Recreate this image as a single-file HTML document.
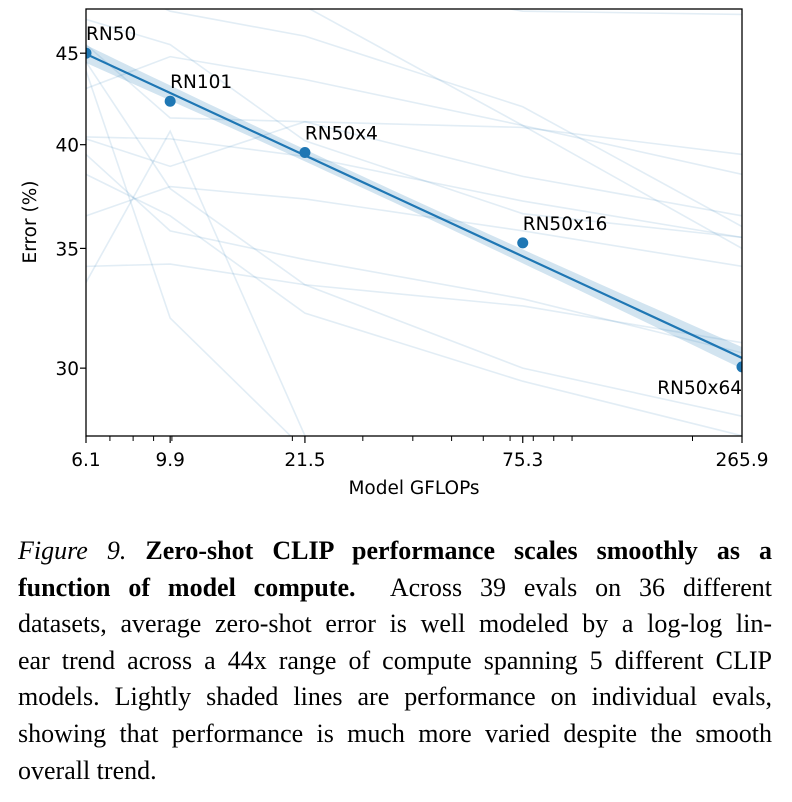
<!DOCTYPE html>
<html><head><meta charset="utf-8">
<style>
html,body{margin:0;padding:0;background:#fff;width:792px;height:802px;overflow:hidden}
#cap{position:absolute;left:18px;top:533px;width:754px;font-family:"Liberation Serif",serif;font-size:26px;line-height:36.6px;color:#000}
#cap .ln{text-align:justify;text-align-last:justify;white-space:nowrap}
#cap .last{text-align-last:left}
</style></head><body>
<svg id="chart" width="792" height="520" style="position:absolute;left:0;top:0" font-family="DejaVu Sans, sans-serif"></svg>
<div id="cap">
<div class="ln"><i>Figure 9.</i> <b>Zero-shot CLIP performance scales smoothly as a</b></div>
<div class="ln"><b>function of model compute.</b>&nbsp; Across 39 evals on 36 different</div>
<div class="ln">datasets, average zero-shot error is well modeled by a log-log lin-</div>
<div class="ln">ear trend across a 44x range of compute spanning 5 different CLIP</div>
<div class="ln">models. Lightly shaded lines are performance on individual evals,</div>
<div class="ln">showing that performance is much more varied despite the smooth</div>
<div class="ln last">overall trend.</div>
</div>
<script>
const models = ["RN50","RN101","RN50x4","RN50x16","RN50x64"];
const gflops = [6.1, 9.9, 21.5, 75.3, 265.9];
const avgError = [45.0, 42.3, 39.6, 35.25, 30.05];
const yTicks = [30, 35, 40, 45];
const xMinorTicks = [7,8,9,10,20,30,40,50,60,70,80,90,100,200];
const evalSeries = [
 [43.0, 44.8, 43.5, 41.0, 38.5],
 [40.4, 40.3, 39.4, 37.2, 35.5],
 [40.3, 38.9, 41.2, 40.9, 39.5],
 [36.5, 37.9, 37.3, 35.8, 34.2],
 [34.2, 34.3, 33.4, 32.5, 31.0],
 [45.5, 41.4, 41.2, 38.4, 36.5],
 [44.0, 32.0, 27.0, 24.0, 22.0],
 [33.5, 40.7, 27.5, 22.0, 20.0],
 [39.5, 35.8, 34.5, 32.8, 30.6],
 [44.5, 37.8, 33.4, 30.0, 28.2],
 [50.0, 47.5, 46.0, 42.0, 36.0],
 [52.0, 50.0, 47.8, 41.0, 35.0],
 [55.0, 53.0, 50.0, 47.5, 47.3],
 [47.0, 45.5, 40.2, 36.6, 35.5],
 [38.5, 36.5, 32.2, 29.5, 27.5]
];
const NS="http://www.w3.org/2000/svg";
const svg=document.getElementById('chart');
const L=86,R=742,T=9,B=436;
const FS=18.5;
const lx0=Math.log(6.1), lx1=Math.log(265.9);
function X(v){return L+(Math.log(v)-lx0)/(lx1-lx0)*(R-L);}
function Y(v){return 3010.2-776.8*Math.log(v);}
function mk(tag,attrs,parent){const e=document.createElementNS(NS,tag);for(const k in attrs)e.setAttribute(k,attrs[k]);(parent||svg).appendChild(e);return e;}
const defs=mk('defs',{});
const cp=mk('clipPath',{id:'clip'},defs);
mk('rect',{x:L,y:T,width:R-L,height:B-T},cp);
const g=mk('g',{'clip-path':'url(#clip)'});


evalSeries.forEach((s,i)=>{
 const p=mk('polyline',{points:s.map((v,j)=>X(gflops[j])+','+Y(v)).join(' '),fill:'none',stroke:'#1f77b4','stroke-opacity':0.13,'stroke-width':1.6},g);
 
 
});
const lx=gflops.map(Math.log), ly=avgError.map(Math.log);
const mx=lx.reduce((a,b)=>a+b)/lx.length, my=ly.reduce((a,b)=>a+b)/ly.length;
let sxy=0,sxx=0;lx.forEach((v,i)=>{sxy+=(v-mx)*(ly[i]-my);sxx+=(v-mx)*(v-mx);});
const slope=sxy/sxx;
function fit(x){return Math.exp(my+slope*(Math.log(x)-mx));}
const c=13;
const up=[],dn=[];
for(let k=0;k<=60;k++){const lv=lx0+(lx1-lx0)*k/60;const x=Math.exp(lv);const hw=c*Math.sqrt(0.2+(lv-mx)*(lv-mx)/sxx);const yy=Y(fit(x));up.push(X(x)+','+(yy-hw));dn.unshift(X(x)+','+(yy+hw));}
const band=mk('polygon',{points:up.concat(dn).join(' '),fill:'#1f77b4','fill-opacity':0.2},g);


const tl=mk('line',{x1:X(6.1),y1:Y(fit(6.1)),x2:X(265.9),y2:Y(fit(265.9)),stroke:'#1f77b4','stroke-width':2.2},g);


models.forEach((m,i)=>{
 const pt=mk('circle',{cx:X(gflops[i]),cy:Y(avgError[i]),r:5.5,fill:'#1f77b4'},g);
 
 
});
const lbl=[[0,-13,'start'],[0,-13,'start'],[0,-13,'start'],[0,-13,'start'],[0,27,'end']];
models.forEach((m,i)=>{
 const t=mk('text',{x:X(gflops[i])+lbl[i][0],y:Y(avgError[i])+lbl[i][1],'font-size':FS,'text-anchor':lbl[i][2],fill:'#000'});
 t.textContent=m;
 
 
});
const frame=mk('rect',{x:L,y:T,width:R-L,height:B-T,fill:'none',stroke:'#000','stroke-width':1.3});


yTicks.forEach(v=>{
 const y=Y(v);
 const tk=mk('line',{x1:L-6,y1:y,x2:L,y2:y,stroke:'#000','stroke-width':1.2});
 
 
 const t=mk('text',{x:L-7,y:y+7,'font-size':FS,'text-anchor':'end'});
 t.textContent=v;
 
 
});
xMinorTicks.forEach(v=>{
 const x=X(v);
 const tk=mk('line',{x1:x,y1:B,x2:x,y2:B+5,stroke:'#000','stroke-width':1});
 
 
});
gflops.forEach(v=>{
 const x=X(v);
 const tk=mk('line',{x1:x,y1:B,x2:x,y2:B+7,stroke:'#000','stroke-width':1.2});
 
 
 const t=mk('text',{x:x,y:B+30,'font-size':FS,'text-anchor':'middle'});
 t.textContent=v.toFixed(1);
 
 
});
const xt=mk('text',{x:414,y:494,'font-size':FS,'text-anchor':'middle'});
xt.textContent='Model GFLOPs';


const yt=mk('text',{x:36,y:222,'font-size':FS,'text-anchor':'middle',transform:'rotate(-90 36 222)'});
yt.textContent='Error (%)';


</script>
</body></html>
